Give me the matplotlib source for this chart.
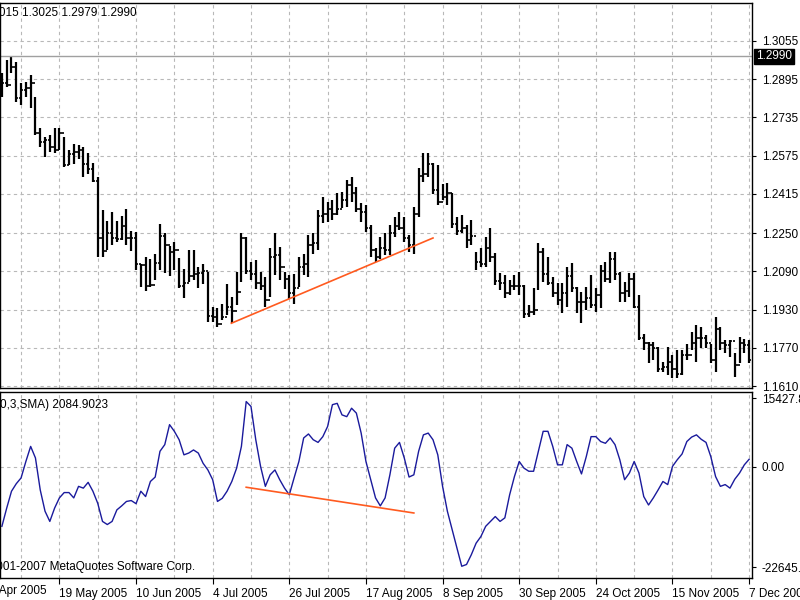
import matplotlib
matplotlib.use("Agg")
import matplotlib.pyplot as plt
import numpy as np

highs = [1.2921,1.2975,1.2988,1.2967,1.2879,1.2883,1.2913,1.2820,1.2690,1.2653,1.2660,1.2690,1.2690,1.2653,1.2600,1.2625,1.2620,1.2611,1.2585,1.2545,
         1.2486,1.2347,1.2300,1.2340,1.2300,1.2320,1.2350,1.2260,1.2255,1.2123,1.2150,1.2140,1.2165,1.2290,1.2250,1.2195,1.2215,1.2145,1.2100,1.2180,
         1.2180,1.2110,1.2123,1.2088,1.1941,1.1935,1.1955,1.2039,1.1983,1.2088,1.2249,1.2235,1.2130,1.2137,1.2088,1.2067,1.2186,1.2249,1.2193,1.2088,
         1.2074,1.2081,1.2151,1.2165,1.2242,1.2249,1.2347,1.2403,1.2382,1.2389,1.2417,1.2423,1.2472,1.2486,1.2444,1.2375,1.2368,1.2284,1.2186,1.2235,
         1.2249,1.2284,1.2319,1.2340,1.2319,1.2242,1.2361,1.2521,1.2584,1.2584,1.2542,1.2535,1.2458,1.2459,1.2417,1.2319,1.2326,1.2284,1.2305,1.2173,
         1.2187,1.2236,1.2270,1.2166,1.2082,1.2075,1.2054,1.2075,1.2089,1.2033,1.1949,1.2019,1.2208,1.2187,1.2152,1.2068,1.2040,1.2040,1.2110,1.2124,
         1.2026,1.2005,1.2026,1.2075,1.2019,1.2117,1.2131,1.2173,1.2173,1.2089,1.2047,1.2082,1.2082,1.1991,1.1830,1.1795,1.1795,1.1774,1.1712,1.1774,
         1.1740,1.1761,1.1761,1.1788,1.1837,1.1865,1.1858,1.1823,1.1788,1.1900,1.1858,1.1802,1.1802,1.1747,1.1816,1.1809,1.1802]
lows = [1.2820,1.2862,1.2921,1.2800,1.2787,1.2820,1.2774,1.2661,1.2611,1.2569,1.2590,1.2585,1.2600,1.2527,1.2535,1.2540,1.2560,1.2485,1.2500,1.2465,
        1.2151,1.2150,1.2180,1.2200,1.2215,1.2220,1.2200,1.2175,1.2095,1.2025,1.2010,1.2025,1.2055,1.2095,1.2085,1.2070,1.2095,1.2020,1.1980,1.2045,
        1.2055,1.2020,1.2039,1.1879,1.1879,1.1858,1.1886,1.1907,1.1872,1.1948,1.2046,1.2081,1.2053,1.2018,1.2011,1.1941,1.1983,1.2074,1.2053,1.2018,
        1.1976,1.1955,1.2025,1.2074,1.2067,1.2165,1.2179,1.2291,1.2298,1.2305,1.2326,1.2354,1.2361,1.2382,1.2340,1.2298,1.2256,1.2151,1.2130,1.2144,
        1.2158,1.2158,1.2235,1.2263,1.2214,1.2172,1.2165,1.2319,1.2465,1.2486,1.2416,1.2368,1.2389,1.2368,1.2270,1.2243,1.2250,1.2187,1.2201,1.2096,
        1.2110,1.2110,1.2131,1.2033,1.2012,1.1977,1.1991,1.2012,1.1991,1.1893,1.1900,1.1907,1.2012,1.2047,1.2033,1.1984,1.1949,1.1914,1.1942,1.2005,
        1.1914,1.1872,1.1928,1.1935,1.1921,1.1935,1.2047,1.2040,1.2054,1.1963,1.1963,1.1984,1.1935,1.1802,1.1761,1.1705,1.1719,1.1670,1.1670,1.1656,
        1.1642,1.1642,1.1656,1.1719,1.1761,1.1712,1.1768,1.1768,1.1705,1.1670,1.1761,1.1747,1.1733,1.1649,1.1705,1.1747,1.1705]
closes = [1.2880,1.2870,1.2945,1.2815,1.2850,1.2860,1.2880,1.2670,1.2630,1.2640,1.2610,1.2600,1.2670,1.2535,1.2580,1.2590,1.2600,1.2540,1.2520,1.2470,
          1.2230,1.2175,1.2250,1.2230,1.2225,1.2280,1.2230,1.2230,1.2120,1.2115,1.2030,1.2035,1.2125,1.2240,1.2200,1.2170,1.2180,1.2030,1.2040,1.2070,
          1.2080,1.2085,1.2090,1.1905,1.1900,1.1870,1.1900,1.1940,1.1925,1.2005,1.2230,1.2090,1.2080,1.2040,1.2030,1.1970,1.2150,1.2160,1.2110,1.2060,
          1.2000,1.2020,1.2110,1.2120,1.2200,1.2210,1.2320,1.2330,1.2350,1.2330,1.2350,1.2390,1.2450,1.2420,1.2350,1.2340,1.2270,1.2180,1.2150,1.2190,
          1.2180,1.2250,1.2280,1.2270,1.2230,1.2200,1.2330,1.2490,1.2500,1.2540,1.2430,1.2380,1.2400,1.2420,1.2290,1.2260,1.2270,1.2220,1.2240,1.2130,
          1.2120,1.2190,1.2150,1.2050,1.2040,1.2000,1.2030,1.2030,1.2030,1.1910,1.1920,1.1930,1.2170,1.2080,1.2040,1.2000,1.1970,1.2000,1.2070,1.2020,
          1.1960,1.1960,1.1980,1.1950,1.1990,1.2090,1.2060,1.2140,1.2080,1.2000,1.2010,1.2060,1.1940,1.1810,1.1790,1.1780,1.1770,1.1680,1.1690,1.1710,
          1.1680,1.1660,1.1740,1.1740,1.1790,1.1810,1.1810,1.1790,1.1720,1.1850,1.1790,1.1780,1.1800,1.1700,1.1790,1.1780,1.1720]
opens = [1.2900] + closes[:-1]

chaikin = [-13400,-9300,-5500,-3800,-2500,1200,4600,2000,-5200,-10000,-12300,-9300,-7000,-5800,-5800,-7000,-4400,-4800,-3500,-5500,
           -8200,-12300,-13000,-12300,-9700,-8800,-7800,-7600,-8300,-5500,-6700,-3300,-2300,3500,5000,9500,8000,6100,2700,3100,
           3800,3100,800,-700,-2900,-7800,-7100,-5500,-3300,-300,4600,14700,13600,6100,100,-4400,-1800,-700,-2900,-4800,
           -6300,-2500,1200,6500,7400,6100,5500,6800,9100,14000,14300,11700,11300,13200,12100,7600,1200,-2900,-7000,-8800,
           -7000,-1800,4200,5500,2000,-2300,-1800,3500,7200,7600,6100,2700,-4400,-10000,-14200,-18300,-22400,-22000,-19800,-17200,
           -15700,-13400,-12300,-11200,-12300,-11500,-6300,-2200,1200,-300,-1000,-1000,3500,8000,8000,4600,450,450,5000,4200,
           1200,-1600,2300,6800,6800,5700,5300,6500,5000,1600,-2900,-1400,1200,-1400,-6700,-8600,-7000,-5200,-3300,-4000,
           100,1600,2900,5700,6700,7200,6200,5500,2300,-2200,-4400,-4000,-4800,-2800,-1400,450,1700]

price_ticks = [1.3055,1.2895,1.2735,1.2575,1.2415,1.2250,1.2090,1.1930,1.1770,1.1610]
osc_ticks = [15427.86, 0.0, -22645.1]
osc_tick_labels = ["15427.86", "0.00", "-22645.1"]
first_date_pos = -4
first_date_label = "27 Apr 2005"
date_pos = [12,28,44,60,76,92,108,124,140,156]
date_labels = ["19 May 2005","10 Jun 2005","4 Jul 2005","26 Jul 2005","17 Aug 2005",
               "8 Sep 2005","30 Sep 2005","24 Oct 2005","15 Nov 2005","7 Dec 2005"]
price_trend_x = [47.9, 90.0]
price_trend_y = [1.1873, 1.2230]
osc_trend_x = [51.0, 86.0]
osc_trend_y = [-4600, -10400]
last_price = 1.2990

plt.rcParams['font.family'] = ['Liberation Sans', 'DejaVu Sans']
FS = 8.5
fig = plt.figure(figsize=(8, 6), dpi=100)
ax1 = fig.add_axes([0.0, 0.353, 0.94, 0.642])
ax2 = fig.add_axes([0.0, 0.037, 0.94, 0.31])

n = len(closes)
idx = np.arange(n)
xlim = (-0.4, 156.6)
grid_x = np.arange(4, 157, 8)

# price panel
ax1.vlines(idx, lows, highs, color='black', lw=1.6)
ax1.hlines(opens, idx - 0.45, idx, color='black', lw=1.2)
ax1.hlines(closes, idx, idx + 0.45, color='black', lw=1.2)
ax1.plot(price_trend_x, price_trend_y, color='#ff5a1f', lw=1.2)
ax1.axhline(last_price, color='#a0a0a0', lw=1)
ax1.set_xlim(*xlim)
ax1.set_ylim(1.1601, 1.3214)
ax1.set_yticks(price_ticks)
ax1.set_yticklabels([f"{t:.4f}" for t in price_ticks])
for g in grid_x:
    ax1.axvline(g, color='#b8b8b8', lw=0.8, ls=(0, (3, 3)), zorder=0)
for t in price_ticks:
    ax1.axhline(t, color='#b8b8b8', lw=0.8, ls=(0, (3, 3)), zorder=0)
ax1.set_xticks([])
ax1.yaxis.tick_right()
ax1.tick_params(axis='y', length=3, labelsize=FS, pad=4)
ax1.text(0.182, 0.975, "EURUSD,Daily  1.3015 1.3025 1.2979 1.2990", transform=ax1.transAxes,
         fontsize=FS, ha='right', va='center', clip_on=False)
ax1.text(1.005, last_price, "1.2990", transform=ax1.get_yaxis_transform(), fontsize=FS, color='white',
         ha='left', va='center', bbox=dict(boxstyle='square,pad=0.15', fc='black', ec='black'), clip_on=False)

# oscillator panel
ax2.plot(idx, chaikin, color='#1a1a9c', lw=1)
ax2.plot(osc_trend_x, osc_trend_y, color='#ff5a1f', lw=1.2)
ax2.set_xlim(*xlim)
ax2.set_ylim(-25000, 16900)
ax2.set_yticks(osc_ticks)
ax2.set_yticklabels(osc_tick_labels)
for g in grid_x:
    ax2.axvline(g, color='#b8b8b8', lw=0.8, ls=(0, (3, 3)), zorder=0)
ax2.axhline(0, color='#b8b8b8', lw=0.8, ls=(0, (3, 3)), zorder=0)
ax2.yaxis.tick_right()
ax2.tick_params(axis='y', length=3, labelsize=FS, pad=4)
ax2.set_xticks(date_pos)
ax2.set_xticklabels(date_labels, ha='left')
ax2.tick_params(axis='x', length=4, labelsize=FS, pad=3)
ax2.text(first_date_pos, -0.037, first_date_label, transform=ax2.get_xaxis_transform(),
         fontsize=FS, ha='left', va='top', clip_on=False)
ax2.text(0.143, 0.93, "Chaikin(10,3,SMA) 2084.9023", transform=ax2.transAxes, fontsize=FS, ha='right', va='center')
ax2.text(0.26, 0.06, "© 2001-2007 MetaQuotes Software Corp.", transform=ax2.transAxes, fontsize=FS, ha='right', va='center')

for ax in (ax1, ax2):
    for s in ax.spines.values():
        s.set_color('black')
        s.set_linewidth(1)

fig.savefig("out.png", dpi=100, facecolor='white')
